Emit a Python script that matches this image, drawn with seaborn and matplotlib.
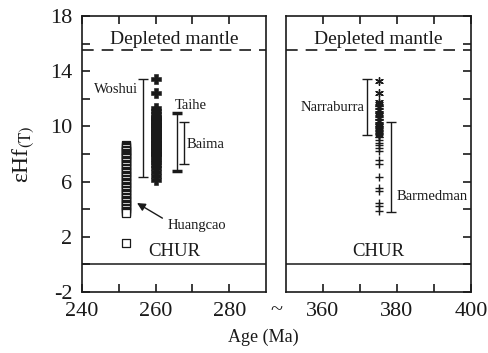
import pandas as pd
import matplotlib
matplotlib.use("Agg")
import matplotlib.pyplot as plt
import seaborn as sns

# --- data ---
huangcao_age = 252
huangcao = [8.65, 8.55, 8.5, 8.4, 8.3, 8.25, 8.2, 8.1, 8.0, 7.9, 7.85, 7.8, 7.7,
            7.6, 7.5, 7.4, 7.3, 7.2, 7.1, 7.0, 6.9, 6.8, 6.7, 6.6, 6.5, 6.4,
            6.3, 6.2, 6.1, 6.0, 5.9, 5.8, 5.7, 5.6, 5.5, 5.4, 5.3, 5.2, 5.1,
            5.0, 4.9, 4.8, 4.7, 4.6, 4.5, 4.4, 4.3, 4.2, 4.1, 4.0, 3.9, 3.8,
            3.7, 1.55]

woshui_age = 260
woshui = [13.4, 12.4, 11.3, 11.1, 10.9, 10.7, 10.6, 10.5, 10.4, 10.3, 10.2, 10.1,
          10.0, 9.9, 9.8, 9.7, 9.6, 9.5, 9.4, 9.3, 9.2, 9.1, 9.0, 8.9, 8.8, 8.7,
          8.6, 8.5, 8.4, 8.3, 8.2, 8.1, 8.0, 7.9, 7.8, 7.6, 7.4, 7.2, 7.0, 6.7,
          6.4, 6.1]

lachlan_age = 375
narraburra = [13.3, 12.4, 11.8, 11.6, 11.4, 11.2, 11.0, 10.8, 10.6, 10.4, 10.2,
              10.0, 9.8, 9.6, 9.4]
barmedman = [11.5, 11.0, 10.5, 10.2, 10.0, 9.8, 9.6, 9.4, 9.2, 9.0, 8.8, 8.65,
             8.4, 8.2, 7.6, 7.3, 6.3, 5.5, 5.3, 4.45, 4.2, 3.9]

# range bars: (label, age, low, high)
left_ranges = [("Woshui", 256.6, 6.3, 13.4), ("Taihe", 265.9, 6.8, 11.0),
               ("Baima", 267.6, 7.25, 10.3)]
right_ranges = [("Narraburra", 372.0, 9.4, 13.4), ("Barmedman", 378.5, 3.8, 10.3)]

depleted_mantle = 15.5
chur = 0

sns.set_style("ticks")
plt.rcParams["font.family"] = ["Liberation Serif", "DejaVu Serif"]
plt.rcParams["mathtext.fontset"] = "stix"
plt.rcParams["axes.unicode_minus"] = False
ink = "#1a1a1a"

fig = plt.figure(figsize=(4.88, 3.53), dpi=100)
W, H = 488, 353
ax1 = fig.add_axes([82 / W, 1 - 292 / H, 184 / W, 276 / H])
ax2 = fig.add_axes([286 / W, 1 - 292 / H, 185 / W, 276 / H])

df_h = pd.DataFrame({"age": huangcao_age, "ehf": huangcao})
df_w = pd.DataFrame({"age": woshui_age, "ehf": woshui})
df_n = pd.DataFrame({"age": lachlan_age, "ehf": narraburra})
df_b = pd.DataFrame({"age": lachlan_age, "ehf": barmedman})

sns.scatterplot(data=df_h, x="age", y="ehf", ax=ax1, marker="s", s=30,
                facecolor="white", edgecolor=ink, linewidth=0.9, zorder=3)
sns.scatterplot(data=df_w, x="age", y="ehf", ax=ax1, marker="P", s=45,
                color=ink, edgecolor=ink, linewidth=0.4, zorder=3)
sns.scatterplot(data=df_b, x="age", y="ehf", ax=ax2, marker="+", s=36,
                color=ink, linewidth=1.0, zorder=3)
sns.scatterplot(data=df_n, x="age", y="ehf", ax=ax2, marker=(6, 2, 0), s=30,
                color=ink, linewidth=1.0, zorder=3)

for ax, ranges in ((ax1, left_ranges), (ax2, right_ranges)):
    for name, x, lo, hi in ranges:
        thick = 2.5 if name == "Taihe" else 1.0
        ax.errorbar([x], [(lo + hi) / 2], yerr=[[(hi - lo) / 2], [(hi - lo) / 2]],
                    fmt="none", ecolor=ink, elinewidth=1.0, capsize=3.5,
                    capthick=thick)

for ax, xlim, major, minor in ((ax1, (240, 290), [240, 260, 280], [250, 270]),
                                (ax2, (350, 400), [360, 380, 400], [370, 390])):
    ax.axhline(depleted_mantle, color=ink, lw=1.2, ls=(0, (7, 4.8)))
    ax.axhline(chur, color=ink, lw=1.1)
    ax.set_xlim(*xlim)
    ax.set_ylim(-2, 18)
    ax.set_xticks(major)
    ax.set_xticks(minor, minor=True)
    ax.set_yticks([-2, 2, 6, 10, 14, 18])
    ax.set_yticks([0, 4, 8, 12, 16], minor=True)
    ax.set_xlabel("")
    ax.set_ylabel("")
    for s in ax.spines.values():
        s.set_visible(True)
        s.set_linewidth(1.2)
        s.set_color(ink)
    ax.tick_params(which="both", direction="in", length=5.5, width=1.2,
                   color=ink, labelsize=16, labelcolor=ink, pad=7,
                   top=True)
    ax.text(sum(xlim) / 2, 16.3, "Depleted mantle", ha="center", va="center",
            fontsize=14, color=ink)
    ax.text(sum(xlim) / 2 if ax is ax2 else 265, 0.95, "CHUR", ha="center",
            va="center", fontsize=13.5, color=ink)

ax1.tick_params(which="both", right=False)
ax2.tick_params(which="both", left=False, right=True, labelleft=False)

# group labels
ax1.text(255.3, 12.7, "Woshui", ha="right", va="center", fontsize=10.5, color=ink)
ax1.text(265.3, 11.55, "Taihe", ha="left", va="center", fontsize=10.5, color=ink)
ax1.text(268.3, 8.7, "Baima", ha="left", va="center", fontsize=10.5, color=ink)
ax1.text(263.2, 2.8, "Huangcao", ha="left", va="center", fontsize=10.5, color=ink)
ax1.annotate("", xy=(254.3, 4.55), xytext=(262.5, 3.25),
             arrowprops=dict(arrowstyle="-|>", color=ink, lw=1.0,
                             mutation_scale=12))
ax2.text(371.3, 11.4, "Narraburra", ha="right", va="center", fontsize=10.5,
         color=ink)
ax2.text(380.0, 4.95, "Barmedman", ha="left", va="center", fontsize=10.5,
         color=ink)

ax1.set_ylabel("εHf$_{\\mathrm{(T)}}$", fontsize=17, color=ink, labelpad=10)
fig.text(276 / W, 1 - 311 / H, "~", ha="center", va="center", fontsize=16,
         color=ink)
fig.text(263 / W, 1 - 337 / H, "Age (Ma)", ha="center", va="center",
         fontsize=13, color=ink)

fig.savefig("out.png", dpi=100)
